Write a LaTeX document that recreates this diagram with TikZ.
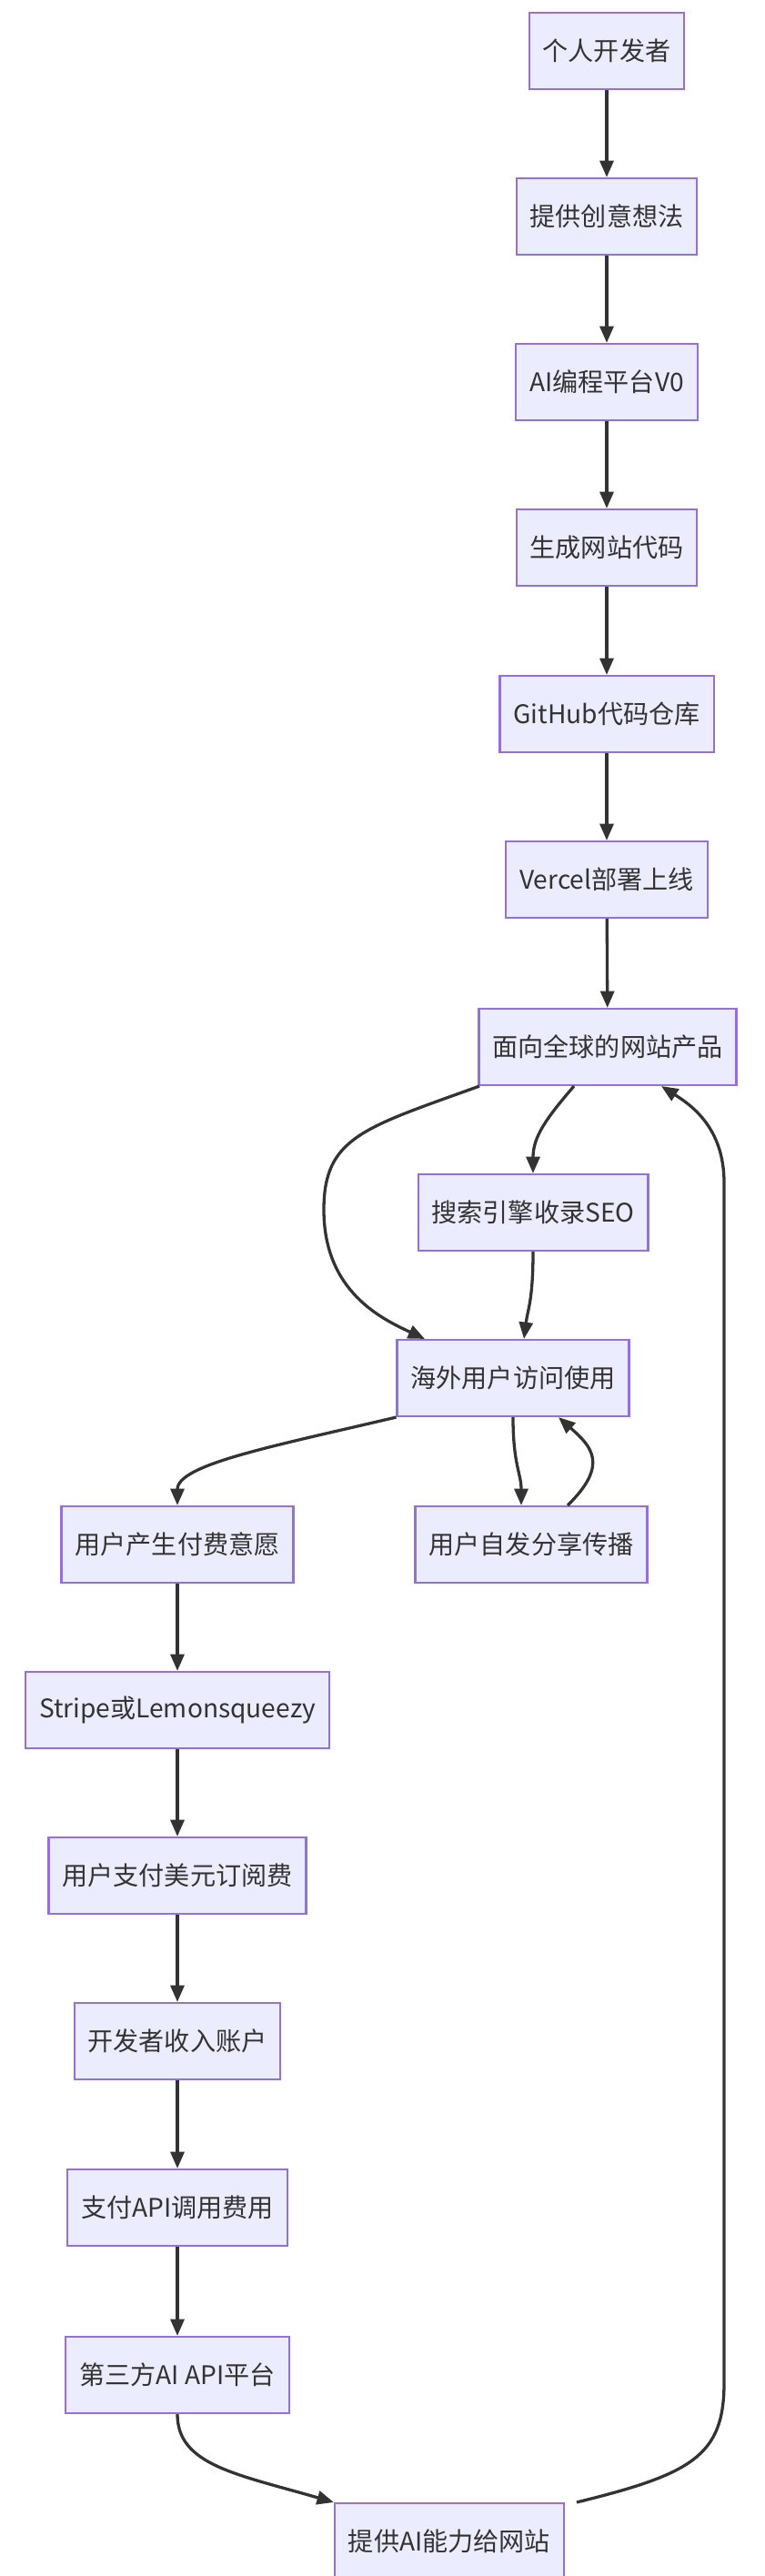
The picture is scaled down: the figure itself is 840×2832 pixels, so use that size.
\documentclass[tikz,border=0pt]{standalone}
\usepackage{fontspec}
\setmainfont{Noto Sans CJK SC}
\usetikzlibrary{positioning,arrows.meta}
\definecolor{mfill}{HTML}{ECECFF}
\definecolor{mline}{HTML}{9370DB}
\definecolor{medge}{HTML}{333333}

\begin{document}
\begin{tikzpicture}[x=0.03cm, y=-0.03cm,
    box/.style={draw=mline, fill=mfill, line width=1.8pt, minimum height=2.52cm,
                inner xsep=0.45cm, font=\fontsize{24}{28}\selectfont, text=medge},
    flow/.style={-{Triangle[length=0.55cm,width=0.45cm]}, line width=2.8pt, draw=medge},
  ]
  \useasboundingbox (0,0) rectangle (840,2832);

  \node[box] (dev) at (667,56) {个人开发者};
  \node[box] (idea) at (667,238) {提供创意想法};
  \node[box] (vzero) at (667,420) {AI编程平台V0};
  \node[box] (code) at (667,602) {生成网站代码};
  \node[box] (repo) at (667,785) {GitHub代码仓库};
  \node[box] (deploy) at (667,967) {Vercel部署上线};
  \node[box] (site) at (668,1151) {面向全球的网站产品};
  \node[box] (seo) at (586,1333) {搜索引擎收录SEO};
  \node[box] (visit) at (564,1515) {海外用户访问使用};
  \node[box] (will) at (195,1698) {用户产生付费意愿};
  \node[box] (share) at (584,1698) {用户自发分享传播};
  \node[box] (pay) at (195,1880) {Stripe或Lemonsqueezy};
  \node[box] (sub) at (195,2062) {用户支付美元订阅费};
  \node[box] (income) at (195,2244) {开发者收入账户};
  \node[box] (api) at (195,2427) {支付API调用费用};
  \node[box] (third) at (195,2611) {第三方AI API平台};
  \node[box] (give) at (494,2794) {提供AI能力给网站};

  % main chain
  \draw[flow] (dev) -- (idea);
  \draw[flow] (idea) -- (vzero);
  \draw[flow] (vzero) -- (code);
  \draw[flow] (code) -- (repo);
  \draw[flow] (repo) -- (deploy);
  \draw[flow] (deploy) -- (site);

  % traffic
  \draw[flow] (site.south west -| 527,0) .. controls (400,1240) and (356,1250) .. (356,1330)
    .. controls (356,1420) and (420,1450) .. (visit.north west -| 467,0);
  \draw[flow] (site.south -| 631,0) .. controls (600,1230) and (586,1250) .. (seo.north);
  \draw[flow] (seo.south) .. controls (586,1430) and (580,1440) .. (visit.north -| 576,0);
  \draw[flow] (visit.south west) .. controls (300,1590) and (195,1610) .. (will.north);
  \draw[flow] (visit.south) .. controls (564,1610) and (573,1620) .. (share.north -| 573,0);
  \draw[flow] (share.north -| 624,0) .. controls (670,1610) and (650,1590) .. (visit.south -| 614,0);

  % payment chain
  \draw[flow] (will) -- (pay);
  \draw[flow] (pay) -- (sub);
  \draw[flow] (sub) -- (income);
  \draw[flow] (income) -- (api);
  \draw[flow] (api) -- (third);
  \draw[flow] (third.south) .. controls (195,2710) and (260,2720) .. (give.north west);
  \draw[flow] (give.north -| 634,0) .. controls (760,2720) and (796,2700) .. (796,2620)
    -- (796,1300) .. controls (796,1240) and (760,1215) .. (site.south -| 727,0);
\end{tikzpicture}
\end{document}
